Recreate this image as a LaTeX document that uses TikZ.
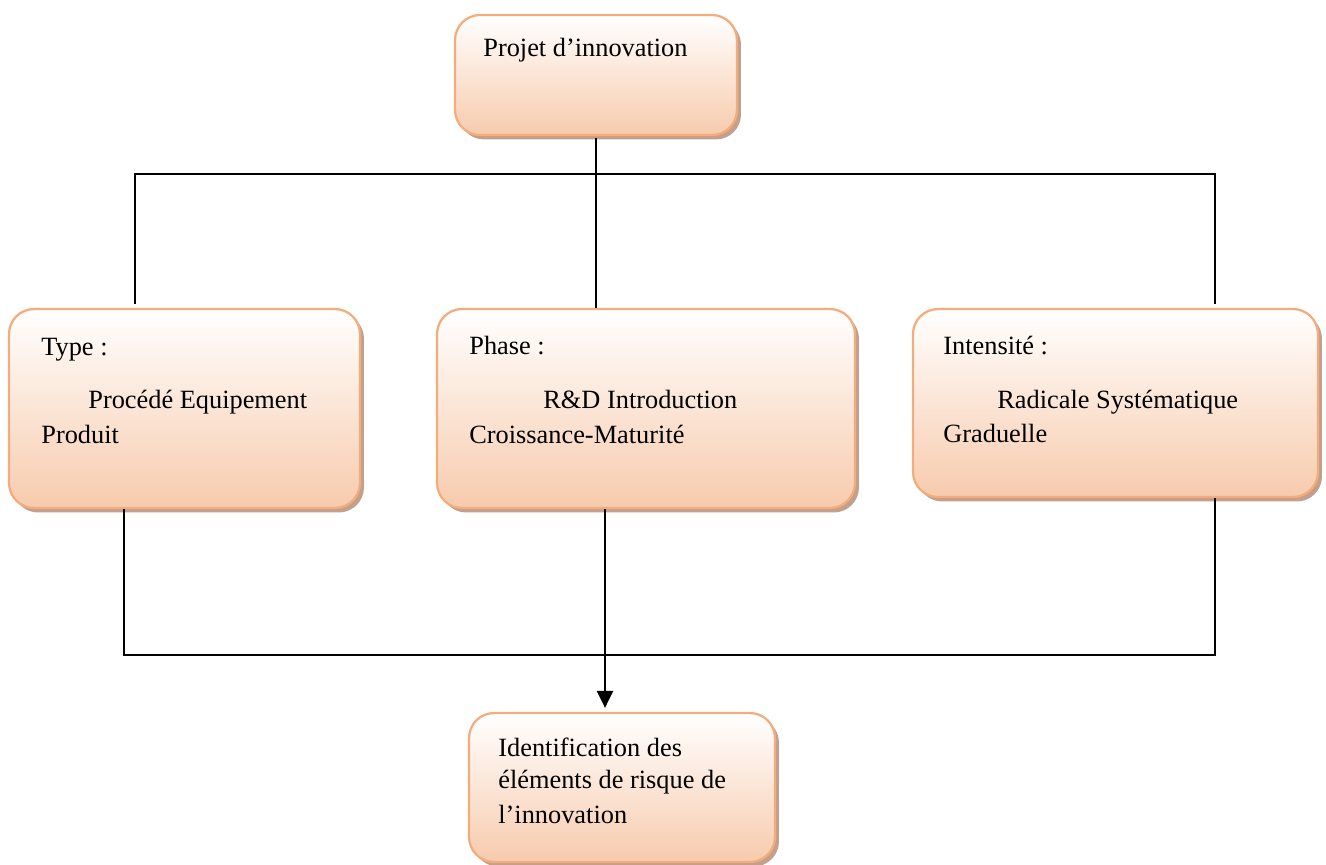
\documentclass[tikz,border=0pt]{standalone}
\usepackage{fontspec}
\setmainfont{Liberation Serif}
\usetikzlibrary{shadows,arrows.meta}
\definecolor{peach}{RGB}{247,203,173}
\definecolor{boxline}{RGB}{243,172,124}
\definecolor{boxshadow}{RGB}{196,160,140}
\tikzset{
  rbox/.style={rounded corners=0.5cm, draw=boxline, line width=0.045cm,
    top color=white, middle color=peach!40!white, bottom color=peach, inner sep=0pt,
    drop shadow={shadow xshift=0.08cm, shadow yshift=-0.09cm, fill=boxshadow, opacity=1}},
  txt/.style={anchor=base west, inner sep=0pt, font=\fontsize{15}{18}\selectfont},
  conn/.style={line width=0.03cm, draw=black},
}
\begin{document}
\begin{tikzpicture}[x=0.02cm,y=-0.02cm]
\useasboundingbox (0,0) rectangle (1326,865);
% boxes
\node[rbox, minimum width=5.64cm, minimum height=2.4cm] (top) at (596,75) {};
\node[rbox, minimum width=7.02cm, minimum height=3.98cm] (type) at (184.5,408.5) {};
\node[rbox, minimum width=8.36cm, minimum height=3.98cm] (phase) at (646,408.5) {};
\node[rbox, minimum width=8.1cm, minimum height=3.76cm] (intens) at (1115.5,403) {};
\node[rbox, minimum width=6.12cm, minimum height=2.98cm] (ident) at (622,787.5) {};
% texts
\node[txt] (t0) at (483,57) {Projet d’innovation};
\node[txt] (t1) at (41,355) {Type :};
\node[txt] (t2) at (88,408) {Procédé Equipement};
\node[txt] (t3) at (41,443) {Produit};
\node[txt] (t4) at (469,354) {Phase :};
\node[txt] (t5) at (543,408) {R\&D Introduction};
\node[txt] (t6) at (469,443) {Croissance-Maturité};
\node[txt] (t7) at (943,354) {Intensité :};
\node[txt] (t8) at (997,408) {Radicale Systématique};
\node[txt] (t9) at (943,442) {Graduelle};
\node[txt] (t10) at (498,756) {Identification des};
\node[txt] (t11) at (498,788) {éléments de risque de};
\node[txt] (t12) at (498,823) {l’innovation};
% upper connectors
\coordinate (hl) at (135,174);
\coordinate (hr) at (1215,174);
\draw[conn] ([yshift=-0.04cm]top.south) -- (top.south |- phase.north);
\draw[conn] ([yshift=0.08cm]hl |- type.north) -- (hl) -- (hr) -- ([yshift=0.08cm]hr |- intens.north);
% lower connectors
\coordinate (bl) at (124,655);
\coordinate (br) at (1215,655);
\coordinate (ax) at (605,600);
\draw[conn] (bl |- type.south) -- (bl) -- (br) -- (br |- intens.south);
\draw[conn, line width=0.05cm, -{Triangle[length=0.34cm,width=0.32cm]}, shorten >=0.08cm]
  (ax |- phase.south) -- (ax |- ident.north);
\end{tikzpicture}
\end{document}
